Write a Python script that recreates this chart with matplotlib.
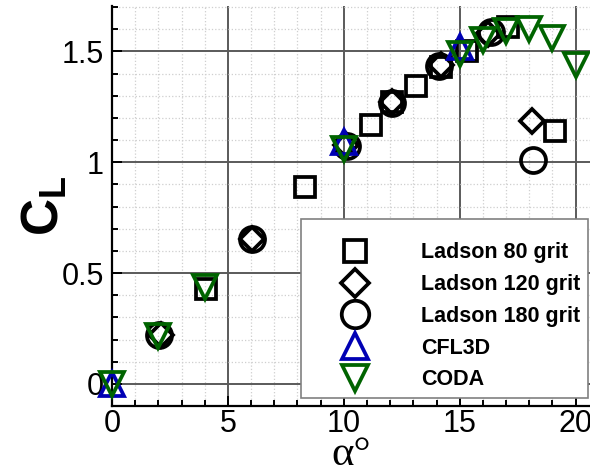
import matplotlib
matplotlib.use("Agg")
import matplotlib.pyplot as plt
from matplotlib.ticker import MultipleLocator

plt.rcParams["font.family"] = ["Liberation Sans", "DejaVu Sans"]
plt.rcParams["mathtext.fontset"] = "custom"
plt.rcParams["mathtext.rm"] = "Liberation Sans"
plt.rcParams["mathtext.bf"] = "Liberation Sans:bold"

# lift coefficient vs angle of attack
alpha_80 = [4.06, 8.33, 11.16, 12.1, 13.1, 14.2, 15.3, 17.1, 19.11]
cl_80 = [0.427, 0.888, 1.166, 1.27, 1.346, 1.43, 1.50, 1.61, 1.139]
alpha_120 = [2.1, 6.05, 10.1, 12.1, 14.2, 16.2, 18.13]
cl_120 = [0.22, 0.655, 1.08, 1.27, 1.44, 1.58, 1.184]
alpha_180 = [2.03, 6.05, 10.12, 12.09, 14.1, 16.33, 18.18]
cl_180 = [0.221, 0.654, 1.075, 1.267, 1.432, 1.587, 1.008]
alpha_cfl3d = [0.0, 10.0, 15.0]
cl_cfl3d = [0.0, 1.09, 1.52]
alpha_coda = [0.0, 2.0, 4.0, 10.0, 15.0, 16.0, 17.0, 18.0, 19.0, 20.0]
cl_coda = [0.0, 0.215, 0.435, 1.06, 1.49, 1.55, 1.59, 1.60, 1.56, 1.44]

series = [
    ("Ladson 80 grit", alpha_80, cl_80, "s", "black", 14.5),
    ("Ladson 120 grit", alpha_120, cl_120, "D", "black", 12.6),
    ("Ladson 180 grit", alpha_180, cl_180, "o", "black", 18),
    ("CFL3D", alpha_cfl3d, cl_cfl3d, "^", "#0000b4", 17.5),
    ("CODA", alpha_coda, cl_coda, "v", "#006400", 17.5),
]

fig = plt.figure(figsize=(5.9, 4.76), dpi=100)
ax = fig.add_axes([112 / 590, 70 / 476, 478 / 590, 400 / 476])

for lab, x, y, m, c, ms in series:
    ax.plot(x, y, ls="none", marker=m, ms=ms, mfc="none", mec=c, mew=2.7,
            label=lab, clip_on=False, zorder=3)

ax.set_xlim(0, 20.62)
ax.set_ylim(-0.1, 1.705)
ax.xaxis.set_major_locator(MultipleLocator(5))
ax.xaxis.set_minor_locator(MultipleLocator(1))
ax.yaxis.set_major_locator(MultipleLocator(0.5))
ax.yaxis.set_minor_locator(MultipleLocator(0.1))
ax.set_yticks([0, 0.5, 1, 1.5])
ax.set_yticklabels(["0", "0.5", "1", "1.5"])

ax.set_axisbelow(True)
ax.grid(which="major", color="#5a5a5a", lw=1.4)
ax.grid(which="minor", color="#cfcfcf", lw=0.9, ls=":")
ax.spines[["top", "right"]].set_visible(False)
for s in ("left", "bottom"):
    ax.spines[s].set_linewidth(1.6)
ax.tick_params(which="both", direction="in", top=False, right=False,
               width=1.4, labelsize=22)
ax.tick_params(which="major", length=7)
ax.tick_params(which="minor", length=4)
ax.tick_params(axis="y", pad=6)
ax.tick_params(axis="x", pad=2)

ax.set_ylabel(r"$\mathbf{C}_\mathbf{L}$", fontsize=37, rotation=90)
ax.yaxis.set_label_coords(-0.088, 0.5)
ax.set_xlabel("α°", fontsize=31, family="Liberation Serif")
ax.xaxis.set_label_coords(0.5, -0.074)

leg = ax.legend(loc="lower right", bbox_to_anchor=(588 / 590, 78 / 476),
                bbox_transform=fig.transFigure, borderaxespad=0,
                prop={"weight": "bold", "size": 15.5}, numpoints=1,
                markerscale=1.1,
                handlelength=4.3, handletextpad=0.94, borderpad=0.35,
                labelspacing=0.5, fancybox=False, framealpha=1,
                edgecolor="#808080", title=" ", title_fontsize=4)
leg.get_frame().set_linewidth(1.2)

fig.savefig("out.png", dpi=100)
